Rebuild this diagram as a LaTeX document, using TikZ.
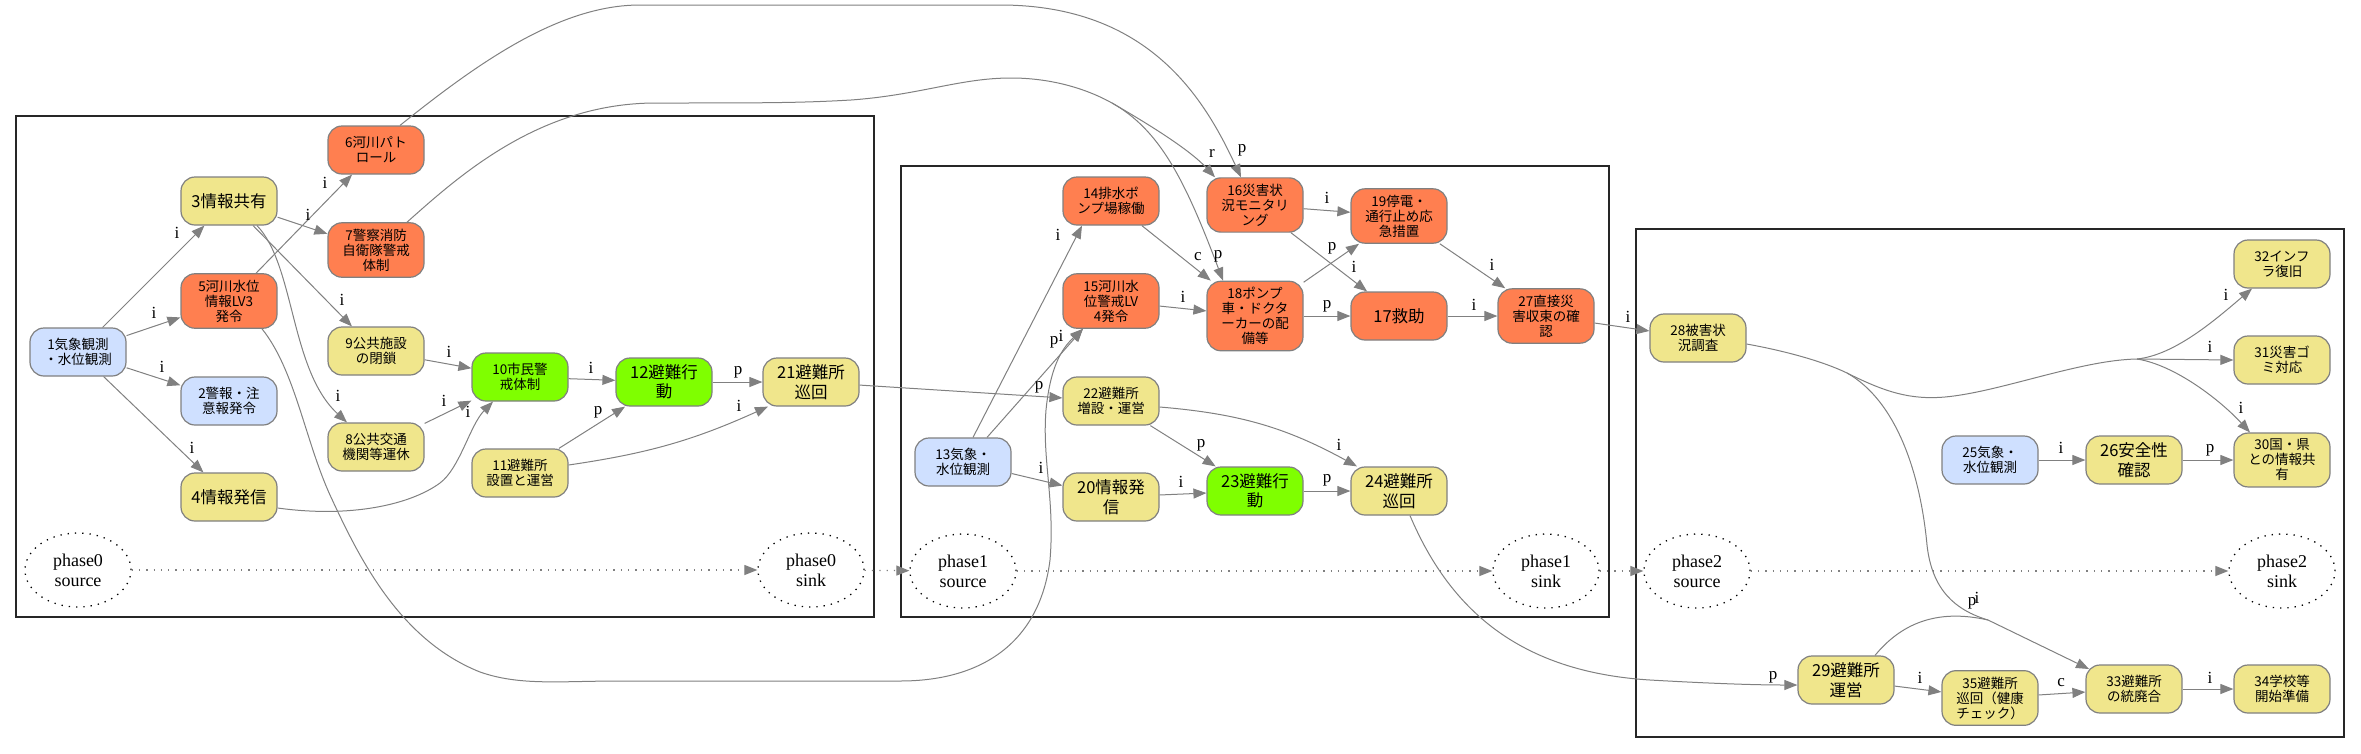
\documentclass[tikz,border=0pt]{standalone}
\usepackage{fontspec}
\setmainfont{Liberation Serif}
\newfontfamily\jpf{Noto Sans CJK JP}
\usetikzlibrary{arrows.meta,shapes.geometric}
\definecolor{cblue}{RGB}{207,224,255}
\definecolor{cyel}{RGB}{240,230,140}
\definecolor{corg}{RGB}{255,127,80}
\definecolor{cgrn}{RGB}{127,255,0}
\definecolor{cline}{RGB}{128,128,128}
\begin{document}
\begin{tikzpicture}[x=1pt,y=-1pt,
  nd/.style={draw=cline, line width=1.2pt, rounded corners=14pt, minimum width=96pt, minimum height=48pt, inner xsep=2pt, inner ysep=6pt, align=center, font=\jpf\fontsize{13.5}{15}\selectfont},
  big/.style={font=\jpf\fontsize{16.5}{19.5}\selectfont},
  blu/.style={nd, fill=cblue}, yel/.style={nd, fill=cyel}, org/.style={nd, fill=corg}, grn/.style={nd, fill=cgrn},
  ph/.style={ellipse, draw=black, line width=1.3pt, dash pattern=on 1.3pt off 6pt, minimum width=106pt, minimum height=74pt, align=center, font=\fontsize{18}{20}\selectfont, inner sep=0pt},
  con/.style={draw=cline, line width=1pt, -{Triangle[length=13pt,width=10pt]}},
  trunk/.style={draw=cline, line width=1pt},
  dotcon/.style={draw=cline, line width=1.2pt, dash pattern=on 1.3pt off 6pt, -{Triangle[length=13pt,width=10pt]}},
  lab/.style={font=\fontsize{17}{19}\selectfont, inner sep=0pt},
  clus/.style={draw=black!85, line width=1.5pt}
]
\useasboundingbox (0,0) rectangle (2361,753);
% clusters
\draw[clus] (16,116) rectangle (874,617);
\draw[clus] (901,166) rectangle (1609,617);
\draw[clus] (1636,229) rectangle (2344,737);
% phase 0
\node[blu] (n1) at (78,352) {1気象観測\\・水位観測};
\node[blu] (n2) at (229,401) {2警報・注\\意報発令};
\node[yel,big] (n3) at (229,201) {3情報共有};
\node[yel,big] (n4) at (229,497) {4情報発信};
\node[org] (n5) at (229,301) {5河川水位\\情報LV3\\発令};
\node[org] (n6) at (376,150) {6河川パト\\ロール};
\node[org] (n7) at (376,250) {7警察消防\\自衛隊警戒\\体制};
\node[yel] (n8) at (376,447) {8公共交通\\機関等運休};
\node[yel] (n9) at (376,351) {9公共施設\\の閉鎖};
\node[grn] (n10) at (520,377) {10市民警\\戒体制};
\node[yel] (n11) at (520,473) {11避難所\\設置と運営};
\node[grn,big] (n12) at (664,382) {12避難行\\動};
\node[yel,big] (n21) at (811,382) {21避難所\\巡回};
\node[ph] (p0a) at (78,570) {phase0\\source};
\node[ph] (p0b) at (811,570) {phase0\\sink};
% phase 1
\node[blu] (n13) at (963,462) {13気象・\\水位観測};
\node[org] (n14) at (1111,201) {14排水ポ\\ンプ場稼働};
\node[org] (n15) at (1111,301) {15河川水\\位警戒LV\\4発令};
\node[org] (n16) at (1255,205) {16災害状\\況モニタリ\\ング};
\node[org] (n18) at (1255,316) {18ポンプ\\車・ドクタ\\ーカーの配\\備等};
\node[org] (n19) at (1399,216) {19停電・\\通行止め応\\急措置};
\node[org,big] (n17) at (1399,316) {17救助};
\node[org] (n27) at (1546,316) {27直接災\\害収束の確\\認};
\node[yel] (n22) at (1111,401) {22避難所\\増設・運営};
\node[yel,big] (n20) at (1111,497) {20情報発\\信};
\node[grn,big] (n23) at (1255,491) {23避難行\\動};
\node[yel,big] (n24) at (1399,491) {24避難所\\巡回};
\node[ph] (p1a) at (963,571) {phase1\\source};
\node[ph] (p1b) at (1546,571) {phase1\\sink};
% phase 2
\node[yel] (n28) at (1698,338) {28被害状\\況調査};
\node[yel] (n32) at (2282,264) {32インフ\\ラ復旧};
\node[yel] (n31) at (2282,360) {31災害ゴ\\ミ対応};
\node[yel] (n30) at (2282,460) {30国・県\\との情報共\\有};
\node[blu] (n25) at (1990,460) {25気象・\\水位観測};
\node[yel,big] (n26) at (2134,460) {26安全性\\確認};
\node[yel,big] (n29) at (1846,680) {29避難所\\運営};
\node[yel] (n35) at (1990,698) {35避難所\\巡回（健康\\チェック）};
\node[yel] (n33) at (2134,689) {33避難所\\の統廃合};
\node[yel] (n34) at (2282,689) {34学校等\\開始準備};
\node[ph] (p2a) at (1697,571) {phase2\\source};
\node[ph] (p2b) at (2282,571) {phase2\\sink};
% phase edges
\draw[dotcon] (p0a) -- (p0b);
\draw[dotcon] (p0b) -- (p1a);
\draw[dotcon] (p1a) -- (p1b);
\draw[dotcon] (p1b) -- (p2a);
\draw[dotcon] (p2a) -- (p2b);
% cluster 0 edges
\draw[con] (n1) -- (n3);
\draw[con] (n1) -- (n5);
\draw[con] (n1) -- (n2);
\draw[con] (n1) -- (n4);
\draw[con] (n3) -- (n7);
\draw[con] (n5) -- (n6);
\draw[con] (n3) -- (n9);
\draw[con] ([xshift=28pt]n3.south) .. controls (295,265) and (290,370) .. ([xshift=-29pt]n8.north);
\draw[con] (n9) -- (n10);
\draw[con] (n8) -- (n10);
\draw[con] ([yshift=-11pt]n4.east) .. controls (350,518) and (410,505) .. (440,483) .. controls (460,468) and (470,425) .. ([xshift=-27pt]n10.south);
\draw[con] (n10) -- (n12);
\draw[con] (n12) -- (n21);
\draw[con] (n11) -- (n12);
\draw[con] ([yshift=8pt]n11.east) to[bend right=8] ([xshift=-43pt]n21.south);
\draw[con] (n21) -- (n22);
% long edges
\draw[con] ([xshift=24pt]n6.north) .. controls (479,62) and (560,5) .. (640,5) -- (1000,5) .. controls (1150,5) and (1205,100) .. ([xshift=-14pt]n16.north);
\coordinate (b7) at (1112,103);
\draw[trunk] ([xshift=31pt]n7.north) .. controls (460,175) and (540,103) .. (656,103) .. controls (760,103) and (800,103) .. (851,100) .. controls (920,95) and (960,78) .. (1011,78) .. controls (1050,78) and (1085,88) .. (b7);
\draw[con] (b7) .. controls (1150,125) and (1190,150) .. ([xshift=-40pt]n16.north);
\draw[con] (b7) .. controls (1160,130) and (1185,180) .. ([xshift=-32pt]n18.north);
\draw[con] ([xshift=33pt]n5.south) .. controls (295,370) and (305,440) .. (330,495) .. controls (360,560) and (400,640) .. (480,672) .. controls (520,686) and (560,681) .. (620,681) -- (900,681) .. controls (985,681) and (1040,640) .. (1050,560) .. controls (1055,500) and (1042,460) .. (1046,410) .. controls (1050,370) and (1060,350) .. ([xshift=-28pt]n15.south);
% cluster 1 edges
\draw[con] ([xshift=10pt]n13.north) -- ([xshift=-29pt]n14.south);
\draw[con] ([xshift=24pt]n13.north) -- ([xshift=-28pt]n15.south);
\draw[con] (n13) -- (n20);
\draw[con] (n14) -- (n18);
\draw[con] (n15) -- (n18);
\draw[con] (n16) -- (n19);
\draw[con] (n16) -- (n17);
\draw[con] (n18) -- (n19);
\draw[con] (n18) -- (n17);
\draw[con] (n19) -- (n27);
\draw[con] (n17) -- (n27);
\draw[con] (n27) -- (n28);
\draw[con] (n22) -- (n23);
\draw[con] ([yshift=-6pt]n22.east) to[bend left=12] ([xshift=-42pt]n24.north);
\draw[con] (n20) -- (n23);
\draw[con] (n23) -- (n24);
\draw[con] ([xshift=11pt]n24.south) .. controls (1450,610) and (1520,672) .. (1650,680) .. controls (1720,684) and (1760,685) .. ([yshift=-5pt]n29.west);
% cluster 2 edges
\coordinate (s28a) at (1847,373);
\coordinate (s28b) at (2137,359);
\coordinate (m33) at (1988,620);
\draw[trunk] ([yshift=-6pt]n28.east) .. controls (1780,350) and (1820,360) .. (s28a);
\draw[trunk] (s28a) .. controls (1885,392) and (1910,400) .. (1945,397) .. controls (2000,392) and (2080,360) .. (s28b);
\draw[con] (s28b) .. controls (2175,355) and (2215,320) .. ([xshift=-30pt]n32.south);
\draw[con] (s28b) -- (n31.west);
\draw[con] (s28b) .. controls (2175,365) and (2220,400) .. ([xshift=-32pt]n30.north);
\draw[trunk] (s28a) .. controls (1895,400) and (1920,470) .. (1927,545) .. controls (1932,590) and (1955,610) .. (m33);
\draw[trunk] ([xshift=29pt]n29.north) .. controls (1900,625) and (1935,608) .. (m33);
\draw[con] (m33) -- ([shift={(-45pt,20pt)}]n33.center);
\draw[con] (n25) -- (n26);
\draw[con] (n26) -- (n30);
\draw[con] (n29) -- (n35);
\draw[con] (n35) -- (n33);
\draw[con] (n33) -- (n34);
% edge labels
\foreach \x/\y/\t [count=\k] in {177/233/i, 154/313/i, 162/367/i, 192/448/i, 308/215/i, 325/183/i, 342/300/i, 338/396/i, 449/352/i, 444/401/i, 468/412/i, 591/368/i, 738/372/p, 598/412/p, 739/406/i, 1039/387/p,
1058/235/i, 1054/342/p, 1061/336/i, 1041/468/i, 1198/257/c, 1218/256/p, 1212/153/r, 1242/150/p, 1183/297/i, 1327/198/i, 1354/267/i, 1332/248/p, 1327/306/p, 1492/265/i, 1474/305/i, 1628/317/i, 1201/445/p, 1339/445/i, 1181/482/i, 1327/480/p,
2226/295/i, 2210/347/i, 2241/408/i, 2061/448/i, 2210/450/p, 1773/677/p, 1920/678/i, 2061/683/c, 2210/678/i, 1972/603/p, 1977/598/i}
  \node[lab] (lab\k) at (\x,\y) {\t};
\end{tikzpicture}
\end{document}
